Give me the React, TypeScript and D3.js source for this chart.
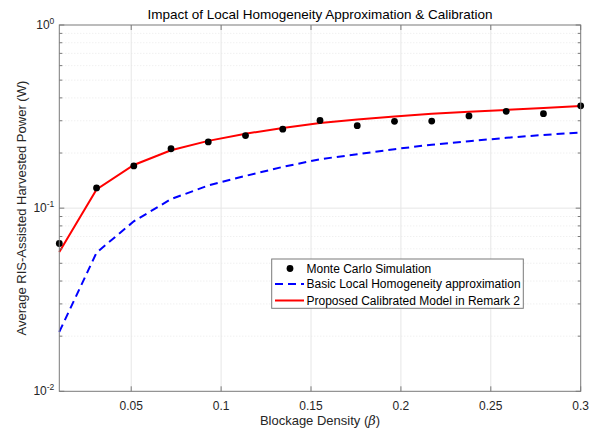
import React from "react";
import * as d3 from "d3";

const betaValues = d3.range(15).map((i) => 0.01 + (i * 0.29) / 14);
const monteCarlo = [0.0641, 0.129, 0.170, 0.211, 0.230, 0.249, 0.270, 0.301, 0.282, 0.298, 0.299, 0.319, 0.338, 0.328, 0.362];
const basicApprox = [0.0211, 0.0572, 0.0847, 0.112, 0.133, 0.150, 0.168, 0.185, 0.197, 0.210, 0.222, 0.232, 0.242, 0.251, 0.259];
const calibrated = [0.0577, 0.1265, 0.172, 0.207, 0.233, 0.255, 0.274, 0.292, 0.305, 0.317, 0.328, 0.336, 0.344, 0.352, 0.361];
const xTicks = [0.05, 0.1, 0.15, 0.2, 0.25, 0.3];
const xTickLabels = ["0.05", "0.1", "0.15", "0.2", "0.25", "0.3"];
const yDecades = [0, -1, -2];
const legendLabels = [
  "Monte Carlo Simulation",
  "Basic Local Homogeneity approximation",
  "Proposed Calibrated Model in Remark 2",
];

const W = 604;
const H = 430;
const L = 59.3, R = 580.7, T = 25, B = 391.3;
const FONT = "'Liberation Sans', Arial, Helvetica, sans-serif";
const TXT = "#262626";
const AX = "#7a7a7a";

export default function App() {
  const x = d3.scaleLinear().domain([0.01, 0.3]).range([L, R]);
  const y = d3.scaleLog().domain([0.01, 1]).range([B, T]);
  const minorY: number[] = [];
  [0.01, 0.1].forEach((d) => {
    for (let k = 2; k <= 9; k++) minorY.push(d * k);
  });
  const line = d3
    .line<number>()
    .x((_, i) => x(betaValues[i]))
    .y((v) => y(v));

  const lx = 271.7, ly = 259, lw = 251.6, lh = 49.3;
  const rows = [268.5, 284, 300.5];

  return (
    <svg width={W} height={H} style={{ position: "absolute", left: 0, top: 0, background: "#fff" }} fontFamily={FONT}>
      <rect x={0} y={0} width={W} height={H} fill="#fff" />
      {/* grid */}
      {minorY.map((v, i) => (
        <line key={"mg" + i} x1={L} x2={R} y1={y(v)} y2={y(v)} stroke="#dcdcdc" strokeWidth={0.6} strokeDasharray="1,2" />
      ))}
      {yDecades.slice(1, 2).map((e) => (
        <line key={"yg" + e} x1={L} x2={R} y1={y(Math.pow(10, e))} y2={y(Math.pow(10, e))} stroke="#e6e6e6" strokeWidth={1} />
      ))}
      {xTicks.slice(0, -1).map((t) => (
        <line key={"xg" + t} x1={x(t)} x2={x(t)} y1={T} y2={B} stroke="#e6e6e6" strokeWidth={1} />
      ))}
      {/* series */}
      <path d={line(basicApprox) || ""} fill="none" stroke="#0000ff" strokeWidth={2} strokeDasharray="8,5" />
      <path d={line(calibrated) || ""} fill="none" stroke="#ff0000" strokeWidth={2} />
      {monteCarlo.map((v, i) => (
        <circle key={"mc" + i} cx={x(betaValues[i])} cy={y(v)} r={3.4} fill="#000" />
      ))}
      {/* axes box */}
      <rect x={L} y={T} width={R - L} height={B - T} fill="none" stroke={AX} strokeWidth={1} />
      {xTicks.map((t) => (
        <g key={"xt" + t}>
          <line x1={x(t)} x2={x(t)} y1={B} y2={B - 5} stroke={AX} />
          <line x1={x(t)} x2={x(t)} y1={T} y2={T + 5} stroke={AX} />
        </g>
      ))}
      {xTicks.map((t, i) => (
        <text key={"xl" + t} x={x(t)} y={B + 19} textAnchor="middle" fontSize={12} fill={TXT}>
          {xTickLabels[i]}
        </text>
      ))}
      {yDecades.map((e) => (
        <g key={"yt" + e}>
          <line x1={L} x2={L + 5} y1={y(Math.pow(10, e))} y2={y(Math.pow(10, e))} stroke={AX} />
          <line x1={R} x2={R - 5} y1={y(Math.pow(10, e))} y2={y(Math.pow(10, e))} stroke={AX} />
          <text x={L - 5} y={y(Math.pow(10, e)) + 4} textAnchor="end" fontSize={12} fill={TXT}>
            10<tspan dy={-5.5} fontSize={8.5}>{e}</tspan>
          </text>
        </g>
      ))}
      {minorY.map((v, i) => (
        <g key={"mt" + i}>
          <line x1={L} x2={L + 3} y1={y(v)} y2={y(v)} stroke={AX} />
          <line x1={R} x2={R - 3} y1={y(v)} y2={y(v)} stroke={AX} />
        </g>
      ))}
      {/* title and labels */}
      <text x={(L + R) / 2} y={T - 6} textAnchor="middle" fontSize={13.5} fill="#000">
        Impact of Local Homogeneity Approximation &amp; Calibration
      </text>
      <text x={(L + R) / 2} y={H - 5} textAnchor="middle" fontSize={13} fill={TXT}>
        Blockage Density (<tspan fontFamily="'DejaVu Serif', serif" fontStyle="italic">β</tspan>)
      </text>
      <text transform={`translate(26,${(T + B) / 2}) rotate(-90)`} textAnchor="middle" fontSize={13} fill={TXT}>
        Average RIS-Assisted Harvested Power (W)
      </text>
      {/* legend */}
      <rect x={lx} y={ly} width={lw} height={lh} fill="#fff" stroke={AX} strokeWidth={1} />
      <circle cx={290} cy={rows[0]} r={3.4} fill="#000" />
      <line x1={275} x2={304} y1={rows[1]} y2={rows[1]} stroke="#0000ff" strokeWidth={2} strokeDasharray="8,5" />
      <line x1={275} x2={304} y1={rows[2]} y2={rows[2]} stroke="#ff0000" strokeWidth={2} />
      {legendLabels.map((s, i) => (
        <text key={"lg" + i} x={306.5} y={rows[i] + 4.2} fontSize={12} fill="#000">
          {s}
        </text>
      ))}
    </svg>
  );
}
